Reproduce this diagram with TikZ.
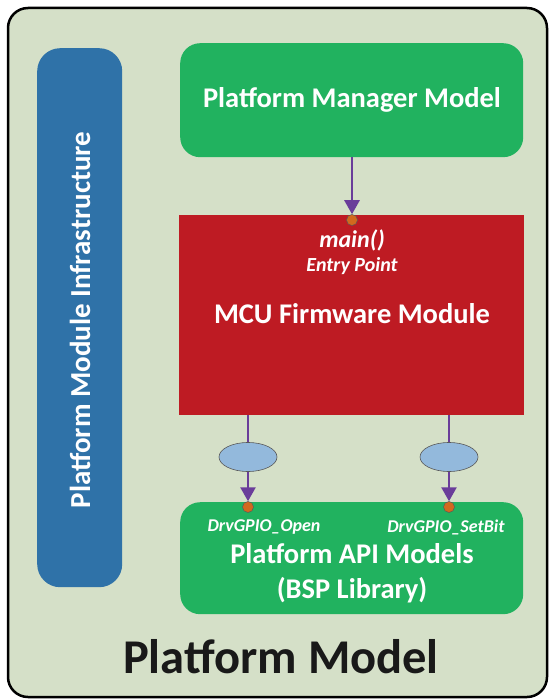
\documentclass[tikz,border=0pt]{standalone}
\usepackage{fontspec}
\setmainfont{Carlito}
\usetikzlibrary{shapes.geometric,arrows.meta}
\definecolor{bgc}{HTML}{D5E0C8}
\definecolor{grn}{HTML}{21B25F}
\definecolor{redc}{HTML}{BE1B23}
\definecolor{bluec}{HTML}{2F72A8}
\definecolor{purp}{HTML}{6A3D9A}
\definecolor{orng}{HTML}{D2691E}
\definecolor{ellc}{HTML}{93B9DC}
\tikzset{
  box/.style={draw=none, rounded corners=20pt, fill=grn, minimum width=343pt, text=white, font=\bfseries},
  conn/.style={draw=purp, line width=2.6pt, -{Triangle[width=15pt,length=14pt]}},
  port/.style={circle, fill=orng, draw=gray!70!black, line width=0.5pt, minimum size=11pt, inner sep=0pt},
  iface/.style={ellipse, fill=ellc, draw=gray!70!black, line width=0.6pt, minimum width=58pt, minimum height=29pt, inner sep=0pt},
  wlabel/.style={text=white, font=\bfseries\itshape, inner sep=0pt},
  bigw/.style={text=white, inner sep=0pt, font=\bfseries\fontsize{28.5}{32}\selectfont}
}
\begin{document}
\begin{tikzpicture}[x=1pt,y=-1pt]
\useasboundingbox (0,0) rectangle (549,700);
% outer frame
\draw[line width=2.5pt, fill=bgc, rounded corners=20pt] (8,8) rectangle (547,697);
% infrastructure bar
\node (infra) [fill=bluec, rounded corners=23pt, minimum width=85pt, minimum height=539pt, inner sep=0pt, anchor=north west] at (37,48) {};
\node[rotate=90, text=white, inner sep=0pt, font=\bfseries\fontsize{29}{33}\selectfont] at (80,320) {Platform Module Infrastructure};
% top manager
\node (mgr) [box, minimum height=114pt, anchor=north west] at (180,43) {};
\node[bigw] at (352,100) {Platform Manager Model};
% MCU
\node (mcu) [fill=redc, minimum width=345pt, minimum height=200pt, inner sep=0pt, anchor=north west] at (179,215) {};
\node[bigw] at (352,314) {MCU Firmware Module};
\node[wlabel, font=\bfseries\itshape\fontsize{24}{28}\selectfont] at (352,240) {main()};
\node[wlabel, font=\bfseries\itshape\fontsize{20}{24}\selectfont] at (352,266) {Entry Point};
% API models
\node (api) [box, minimum height=112pt, anchor=north west] at (180,502) {};
\node[bigw] at (352,554) {Platform API Models};
\node[bigw] at (352,590) {(BSP Library)};
\node[wlabel, font=\bfseries\itshape\fontsize{18}{21}\selectfont] at (264,527) {DrvGPIO\_Open};
\node[wlabel, font=\bfseries\itshape\fontsize{18}{21}\selectfont] at (446,527) {DrvGPIO\_SetBit};
% ports
\coordinate (mcutop) at (352,215);
\coordinate (mcub1) at (248,415);
\coordinate (mcub2) at (449,415);
\node (p0) [port] at (352,220) {};
\node (p1) [port] at (248,507) {};
\node (p2) [port] at (449,507) {};
\node (e1) [iface] at (248,457) {};
\node (e2) [iface] at (449,457) {};
% connectors
\draw[conn] (mgr.south -| mcutop) -- (p0.north);
\draw[purp, line width=2.6pt] (mcub1) -- (e1.north);
\draw[purp, line width=2.6pt] (mcub2) -- (e2.north);
\draw[conn] (e1.south) -- (p1.north);
\draw[conn] (e2.south) -- (p2.north);
% title
\node[font=\bfseries\fontsize{48.5}{54}\selectfont, text=black!90, inner sep=0pt] at (281,657) {Platform Model};
\end{tikzpicture}
\end{document}
